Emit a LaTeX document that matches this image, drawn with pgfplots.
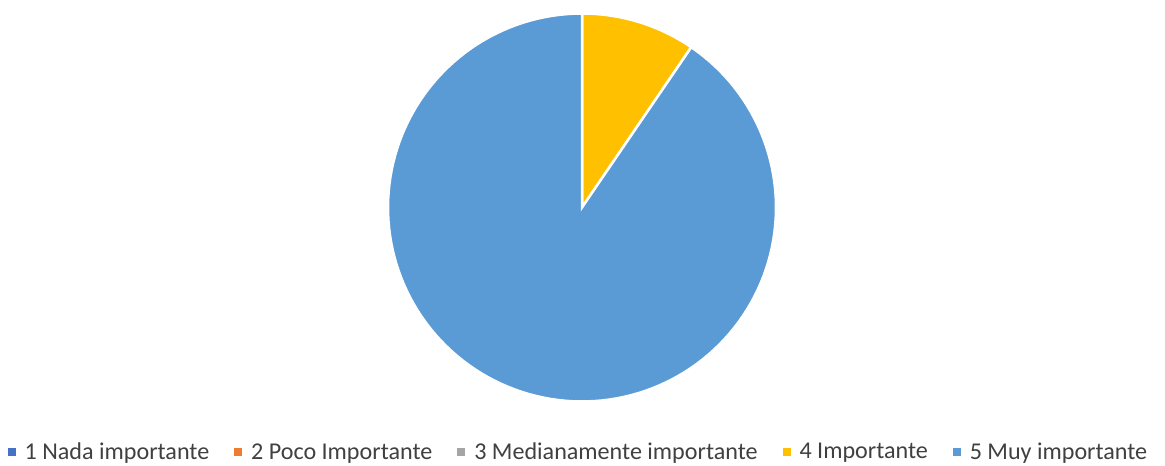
\documentclass[border=0pt]{standalone}
\usepackage{fontspec}
\setmainfont{Carlito}
\usepackage{pgfplots}
\usepackage{pgfplotstable}
\pgfplotsset{compat=1.18}
\definecolor{c1}{HTML}{4472C4}
\definecolor{c2}{HTML}{ED7D31}
\definecolor{c3}{HTML}{A5A5A5}
\definecolor{c4}{HTML}{FFC000}
\definecolor{c5}{HTML}{5B9BD5}
\definecolor{txt}{HTML}{404040}
\pgfplotstableread{
id value
1 0
2 0
3 0
4 2
5 19
}\piedata
\begin{document}
\begin{tikzpicture}
\pgfplotstablegetelem{3}{value}\of\piedata \let\vD=\pgfplotsretval
\pgfplotstablegetelem{4}{value}\of\piedata \let\vE=\pgfplotsretval
\pgfmathsetmacro{\tot}{\vD+\vE}
\pgfmathsetmacro{\aD}{90-360*\vD/\tot}
\pgfmathsetmacro{\aE}{\aD-360*\vE/\tot}
\useasboundingbox (0,0) rectangle (1165bp,466bp);
\begin{axis}[at={(0,0)}, anchor=south west, scale only axis,
  width=1165bp, height=466bp, xmin=0, xmax=1165, ymin=0, ymax=466,
  hide axis, clip=false,
  legend columns=5,
  legend image code/.code={\fill[#1] (0bp,-3.5bp) rectangle (7bp,3.5bp);},
  legend style={at={(axis cs:578.5,14)}, anchor=center, draw=none, fill=none,
    font=\fontsize{24.2}{28}\selectfont, text=txt,
    /tikz/every odd column/.append style={column sep=7.5bp},
    /tikz/every even column/.append style={column sep=23bp}},
]
\addplot[fill=c4, draw=white, line width=2.5bp, domain=\aD:90, samples=40, variable=\t, forget plot]
  ({582+194*cos(\t)},{258.5+194*sin(\t)}) -- (axis cs:582,258.5) -- cycle;
\addplot[fill=c5, draw=white, line width=2.5bp, domain=\aE:\aD, samples=150, variable=\t, forget plot]
  ({582+194*cos(\t)},{258.5+194*sin(\t)}) -- (axis cs:582,258.5) -- cycle;
\addlegendimage{c1}\addlegendentry{1 Nada importante}
\addlegendimage{c2}\addlegendentry{2 Poco Importante}
\addlegendimage{c3}\addlegendentry{3 Medianamente importante}
\addlegendimage{c4}\addlegendentry{4 Importante}
\addlegendimage{c5}\addlegendentry{5 Muy importante}
\end{axis}
\end{tikzpicture}
\end{document}
